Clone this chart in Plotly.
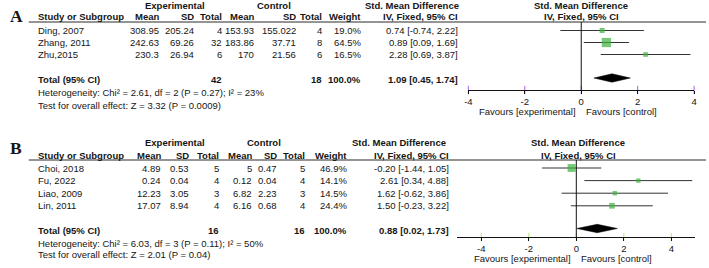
import math
import plotly.graph_objects as go

W, H = 709, 268

# ---------------- Panel A data ----------------
studies_A = ["Ding, 2007", "Zhang, 2011", "Zhu,2015"]
exp_mean_A = [308.95, 242.63, 230.3]
exp_sd_A = [205.24, 69.26, 26.94]
exp_n_A = [4, 32, 6]
ctl_mean_A = [153.93, 183.86, 170]
ctl_sd_A = [155.022, 37.71, 21.56]
ctl_n_A = [4, 8, 6]
weight_A = [19.0, 64.5, 16.5]
smd_A = [0.74, 0.89, 2.28]
lo_A = [-0.74, 0.09, 0.69]
hi_A = [2.22, 1.69, 3.87]
total_A = {"exp_n": 42, "ctl_n": 18, "weight": 100.0, "est": 1.09, "lo": 0.45, "hi": 1.74}
het_A = "Heterogeneity: Chi² = 2.61, df = 2 (P = 0.27); I² = 23%"
test_A = "Test for overall effect: Z = 3.32 (P = 0.0009)"

# ---------------- Panel B data ----------------
studies_B = ["Choi, 2018", "Fu, 2022", "Liao, 2009", "Lin, 2011"]
exp_mean_B = [4.89, 0.24, 12.23, 17.07]
exp_sd_B = [0.53, 0.04, 3.05, 8.94]
exp_n_B = [5, 4, 3, 4]
ctl_mean_B = [5, 0.12, 6.82, 6.16]
ctl_sd_B = [0.47, 0.04, 2.23, 0.68]
ctl_n_B = [5, 4, 3, 4]
weight_B = [46.9, 14.1, 14.5, 24.4]
smd_B = [-0.20, 2.61, 1.62, 1.50]
lo_B = [-1.44, 0.34, -0.62, -0.23]
hi_B = [1.05, 4.88, 3.86, 3.22]
total_B = {"exp_n": 16, "ctl_n": 16, "weight": 100.0, "est": 0.88, "lo": 0.02, "hi": 1.73}
het_B = "Heterogeneity: Chi² = 6.03, df = 3 (P = 0.11); I² = 50%"
test_B = "Test for overall effect: Z = 2.01 (P = 0.04)"

axis_ticks = [-4, -2, 0, 2, 4]

FONT = "Liberation Sans, Arial, sans-serif"
FS = 9.5
TXT = "#151515"
GREEN = "#3db13d"

# layout of each panel (pixel positions)
panels = [
    dict(letter="A", letter_y=16, h1=5, h2=16.5, rule=22, row0=30.5, step=12, total=79.5, het=93, test=106,
         axis_y=90, xdom=(469, 697), xrange=(-4, 4),
         cols=dict(name=33, em=158, esd=193, en=221, cm=254, csd=296, cn=322, w=362, ci=460),
         exp_c=173, ctl_c=273, smd_c=412, plot_c=583,
         studies=studies_A, em=exp_mean_A, esd=exp_sd_A, en=exp_n_A, cm=ctl_mean_A, csd=ctl_sd_A,
         cn=ctl_n_A, w=weight_A, smd=smd_A, lo=lo_A, hi=hi_A, tot=total_A, hettxt=het_A, testtxt=test_A,
         xa="x", ya="y", xname="xaxis", yname="yaxis"),
    dict(letter="B", letter_y=148, h1=142.5, h2=155, rule=160, row0=168, step=12.6, total=230, het=243, test=254.5,
         axis_y=237, xdom=(458, 698), xrange=(-5, 5),
         cols=dict(name=33, em=160, esd=188, en=218, cm=251, csd=277, cn=305, w=347, ci=450),
         exp_c=173, ctl_c=263, smd_c=399, plot_c=580,
         studies=studies_B, em=exp_mean_B, esd=exp_sd_B, en=exp_n_B, cm=ctl_mean_B, csd=ctl_sd_B,
         cn=ctl_n_B, w=weight_B, smd=smd_B, lo=lo_B, hi=hi_B, tot=total_B, hettxt=het_B, testtxt=test_B,
         xa="x2", ya="y2", xname="xaxis2", yname="yaxis2"),
]


def fmt(v):
    return f"{v:g}"


def py(y):
    return 1 - y / H


fig = go.Figure()
annotations = []
shapes = []


def ann(x, y, text, anchor="left", bold=False, size=FS, family=FONT, xref="paper", xshift=0):
    annotations.append(dict(
        x=(x / W) if xref == "paper" else x, y=py(y), xref=xref, yref="paper",
        text=f"<b>{text}</b>" if bold else text,
        xanchor=anchor, yanchor="middle", showarrow=False, borderpad=0, xshift=xshift,
        font=dict(family=family, size=size, color=TXT),
    ))


layout_axes = {}
for p in panels:
    c = p["cols"]
    rows_y = [p["row0"] + i * p["step"] for i in range(len(p["studies"]))]

    # panel letter
    ann(5, p["letter_y"], p["letter"], bold=True, size=17.5, family="Liberation Serif, Times New Roman, serif")

    # header row 1
    ann(p["exp_c"], p["h1"], "Experimental", "center", True)
    ann(p["ctl_c"], p["h1"], "Control", "center", True)
    ann(p["smd_c"], p["h1"], "Std. Mean Difference", "center", True)
    ann(p["plot_c"], p["h1"], "Std. Mean Difference", "center", True)
    # header row 2
    ann(c["name"], p["h2"], "Study or Subgroup", "left", True)
    for key, lab in [("em", "Mean"), ("esd", "SD"), ("en", "Total"), ("cm", "Mean"),
                     ("csd", "SD"), ("cn", "Total"), ("w", "Weight")]:
        ann(c[key], p["h2"], lab, "right", True)
    ann(c["ci"], p["h2"], "IV, Fixed, 95% CI", "right", True)
    ann(p["plot_c"], p["h2"], "IV, Fixed, 95% CI", "center", True)

    # rule under header
    shapes.append(dict(type="line", xref="paper", yref="paper", x0=25 / W, x1=1, y0=py(p["rule"]), y1=py(p["rule"]),
                       line=dict(color="#2a2a2a", width=1)))

    # study rows
    for i, y in enumerate(rows_y):
        ann(c["name"], y, p["studies"][i], "left")
        ann(c["em"], y, fmt(p["em"][i]), "right")
        ann(c["esd"], y, fmt(p["esd"][i]), "right")
        ann(c["en"], y, fmt(p["en"][i]), "right")
        ann(c["cm"], y, fmt(p["cm"][i]), "right")
        ann(c["csd"], y, fmt(p["csd"][i]), "right")
        ann(c["cn"], y, fmt(p["cn"][i]), "right")
        ann(c["w"], y, f"{p['w'][i]:.1f}%", "right")
        ann(c["ci"], y, f"{p['smd'][i]:.2f} [{p['lo'][i]:.2f}, {p['hi'][i]:.2f}]", "right")

    # totals
    t = p["tot"]
    ann(c["name"], p["total"], "Total (95% CI)", "left", True)
    ann(c["en"], p["total"], fmt(t["exp_n"]), "right", True)
    ann(c["cn"], p["total"], fmt(t["ctl_n"]), "right", True)
    ann(c["w"], p["total"], f"{t['weight']:.1f}%", "right", True)
    ann(c["ci"], p["total"], f"{t['est']:.2f} [{t['lo']:.2f}, {t['hi']:.2f}]", "right", True)
    ann(c["name"], p["het"], p["hettxt"], "left")
    ann(c["name"], p["test"], p["testtxt"], "left")

    # favours labels
    fav_y = p["axis_y"] + 21.5
    ann(0, fav_y, "Favours [experimental]", "right", xref=p["xa"], xshift=-4)
    ann(0, fav_y, "Favours [control]", "left", xref=p["xa"], xshift=4)

    # zero line
    shapes.append(dict(type="line", xref=p["xa"], yref=p["ya"], x0=0, x1=0, y0=p["rule"], y1=p["axis_y"],
                       line=dict(color="#111", width=1)))

    # CI lines
    xs, ys = [], []
    for i, y in enumerate(rows_y):
        xs += [p["lo"][i], p["hi"][i], None]
        ys += [y, y, None]
    fig.add_trace(go.Scatter(x=xs, y=ys, xaxis=p["xa"], yaxis=p["ya"], mode="lines",
                             line=dict(color="#333", width=1), hoverinfo="skip", showlegend=False,
                             cliponaxis=False))
    # squares
    fig.add_trace(go.Scatter(x=p["smd"], y=rows_y, xaxis=p["xa"], yaxis=p["ya"], mode="markers",
                             marker=dict(symbol="square", color=GREEN,
                                         size=[1.15 * math.sqrt(w) for w in p["w"]], line=dict(width=0)),
                             showlegend=False, cliponaxis=False))
    # diamond
    ty = p["total"] - 1.5
    hh = 4.2
    fig.add_trace(go.Scatter(x=[t["lo"], t["est"], t["hi"], t["est"], t["lo"]],
                             y=[ty, ty - hh, ty, ty + hh, ty], xaxis=p["xa"], yaxis=p["ya"],
                             mode="lines", fill="toself", fillcolor="#000", line=dict(color="#000", width=0.5),
                             showlegend=False, cliponaxis=False))
    # crossing tick marks
    fig.add_trace(go.Scatter(x=axis_ticks, y=[p["axis_y"]] * len(axis_ticks), xaxis=p["xa"], yaxis=p["ya"],
                             mode="markers", marker=dict(symbol="line-ns-open", size=6,
                                                         line=dict(color="#111", width=1)),
                             showlegend=False, hoverinfo="skip", cliponaxis=False))

    layout_axes[p["xname"]] = dict(
        domain=[p["xdom"][0] / W, p["xdom"][1] / W], range=list(p["xrange"]),
        anchor=p["ya"],
        showline=True, linecolor="#111", linewidth=1,
        tickvals=axis_ticks, ticktext=[str(v) for v in axis_ticks],
        ticks="outside", ticklen=3, tickcolor="#111",
        tickfont=dict(family=FONT, size=9.5, color=TXT),
        showgrid=False, zeroline=False, fixedrange=True,
    )
    layout_axes[p["yname"]] = dict(
        domain=[py(p["axis_y"]), py(p["rule"])], range=[p["axis_y"], p["rule"]],
        anchor=p["xa"], visible=False, fixedrange=True,
    )

fig.update_layout(
    width=W, height=H, margin=dict(l=0, r=0, t=0, b=0),
    paper_bgcolor="white", plot_bgcolor="white",
    annotations=annotations, shapes=shapes, showlegend=False,
    **layout_axes,
)

fig.write_html("out.html", config={"displayModeBar": False, "staticPlot": True},
               post_script="document.body.style.margin='0';document.body.style.overflow='hidden';")
